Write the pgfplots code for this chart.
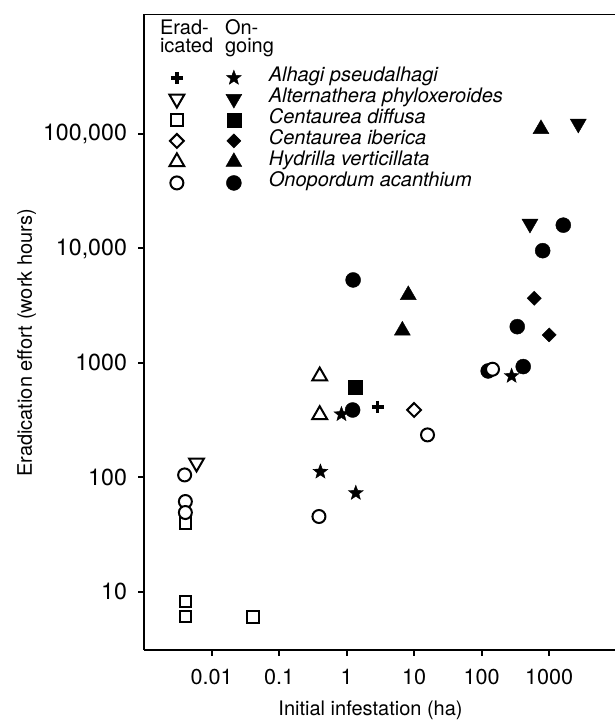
\documentclass[border=0pt]{standalone}
\usepackage{fontspec}
\setmainfont{TeX Gyre Heros}
\usepackage{pgfplots}
\pgfplotsset{compat=1.18}
\usetikzlibrary{plotmarks}

% filled five-pointed star
\pgfdeclareplotmark{fstar}{%
  \pgfpathmoveto{\pgfpointpolar{90}{\pgfplotmarksize}}%
  \pgfpathlineto{\pgfpointpolar{126}{0.42\pgfplotmarksize}}%
  \pgfpathlineto{\pgfpointpolar{162}{\pgfplotmarksize}}%
  \pgfpathlineto{\pgfpointpolar{198}{0.42\pgfplotmarksize}}%
  \pgfpathlineto{\pgfpointpolar{234}{\pgfplotmarksize}}%
  \pgfpathlineto{\pgfpointpolar{270}{0.42\pgfplotmarksize}}%
  \pgfpathlineto{\pgfpointpolar{306}{\pgfplotmarksize}}%
  \pgfpathlineto{\pgfpointpolar{342}{0.42\pgfplotmarksize}}%
  \pgfpathlineto{\pgfpointpolar{18}{\pgfplotmarksize}}%
  \pgfpathlineto{\pgfpointpolar{54}{0.42\pgfplotmarksize}}%
  \pgfpathclose
  \pgfusepathqfillstroke
}

% open marks = eradicated, filled marks = ongoing
\tikzset{
  opn/.style={draw=black, fill=white, line width=1pt, line join=miter},
  fld/.style={draw=black, fill=black, line width=0.2pt, line join=miter},
  e plus/.style={mark=+, mark size=3pt, mark options={draw=black, line width=1.9pt}},
  o star/.style={mark=fstar, mark size=3.9pt, mark options={fld}},
  e dtri/.style={mark=triangle*, mark size=4.3pt, mark options={opn, rotate=180}},
  o dtri/.style={mark=triangle*, mark size=4.6pt, mark options={fld, rotate=180}},
  e sq/.style={mark=square*, mark size=2.85pt, mark options={opn}},
  o sq/.style={mark=square*, mark size=3.5pt, mark options={fld}},
  e dia/.style={mark=square*, mark size=2.45pt, mark options={opn, rotate=45}},
  o dia/.style={mark=square*, mark size=2.5pt, mark options={fld, rotate=45}},
  e tri/.style={mark=triangle*, mark size=4.3pt, mark options={opn}},
  o tri/.style={mark=triangle*, mark size=4.6pt, mark options={fld}},
  e circ/.style={mark=*, mark size=3.25pt, mark options={opn}},
  o circ/.style={mark=*, mark size=3.75pt, mark options={fld}},
}
\pgfplotsset{
  pair/.style 2 args={legend image code/.code={
      \draw[only marks, #1] plot coordinates {(0pt,0pt)};
      \draw[only marks, #2] plot coordinates {(28.5pt,0pt)};
  }},
}

\begin{document}
\begin{tikzpicture}
% page = axis box plus margins (axis sits with its lower left corner at the origin)
\useasboundingbox (-72pt,-35pt) rectangle (235.5pt,325pt);
\begin{axis}[
  at={(0pt,0pt)}, anchor=south west,
  scale only axis, width=235.5pt, height=318pt,
  xmode=log, ymode=log,
  xmin=0.001, xmax=9440, ymin=3.1, ymax=1.12e6,
  axis x line*=bottom, axis y line*=left,
  axis line style={line width=1.1pt},
  tick align=outside, major tick length=3pt,
  tick style={line width=1pt, black},
  xminorticks=false, yminorticks=false,
  xtick={0.01,0.1,1,10,100,1000}, xticklabels={0.01,0.1,1,10,100,1000},
  ytick={10,100,1000,10000,100000}, yticklabels={10,100,1000,{10,000},{100,000}},
  xticklabel style={font=\fontsize{10.8}{12}\selectfont, yshift=-3pt},
  yticklabel style={font=\fontsize{11.6}{13}\selectfont, xshift=-2pt},
  xlabel={Initial infestation (ha)}, ylabel={Eradication effort (work hours)},
  label style={font=\fontsize{12.8}{14}\selectfont},
  every axis x label/.style={at={(rel axis cs:0.481,0)}, yshift=-32.5pt, anchor=base},
  every axis y label/.style={at={(rel axis cs:0,0.483)}, xshift=-56pt, rotate=90, anchor=base},
  legend cell align=left,
  legend style={draw=none, fill=none, at={(rel axis cs:0.054,0.916)}, anchor=north west,
    inner sep=0pt, outer sep=0pt, row sep=0pt, column sep=13.5pt,
    font=\fontsize{10}{12}\selectfont\itshape,
    nodes={inner sep=0pt, text height=7.2pt, text depth=3.3pt}},
]
% ongoing
\addplot[only marks, o star, pair={e plus}{o star}] coordinates {(0.84,356) (0.41,112) (1.37,73) (278,769)};
\addlegendentry{Alhagi pseudalhagi}
\addplot[only marks, o dtri, pair={e dtri}{o dtri}] coordinates {(2700,123000) (520,16440)};
\addlegendentry{Alternathera phyloxeroides}
\addplot[only marks, o sq, pair={e sq}{o sq}] coordinates {(1.33,614)};
\addlegendentry{Centaurea diffusa}
\addplot[only marks, o dia, pair={e dia}{o dia}] coordinates {(601,3670) (1002,1758)};
\addlegendentry{Centaurea iberica}
\addplot[only marks, o tri, pair={e tri}{o tri}] coordinates {(757,110600) (8.2,3925) (6.7,1920)};
\addlegendentry{Hydrilla verticillata}
\addplot[only marks, o circ, pair={e circ}{o circ}] coordinates {(1.25,5310) (1.23,388) (1620,16000) (802,9570) (337,2075) (413,929) (125,851)};
\addlegendentry{Onopordum acanthium}
% eradicated
\addplot[only marks, e plus, forget plot] coordinates {(2.88,415)};
\addplot[only marks, e dtri, forget plot] coordinates {(0.006,134)};
\addplot[only marks, e sq, forget plot] coordinates {(0.0041,40) (0.0041,8.2) (0.0041,6.1) (0.041,6.0)};
\addplot[only marks, e dia, forget plot] coordinates {(10,388)};
\addplot[only marks, e tri, forget plot] coordinates {(0.40,766) (0.40,352)};
\addplot[only marks, e circ, forget plot] coordinates {(0.004,105) (0.0041,61.5) (0.0041,49.3) (0.39,45.5) (15.8,235) (145,881)};

\draw[line width=1.1pt, line cap=rect] (rel axis cs:0,1) -- (rel axis cs:1,1);
\node[anchor=base west, font=\fontsize{10}{12}\selectfont] at (rel axis cs:0.0191,0.967) {Erad-};
\node[anchor=base west, font=\fontsize{10}{12}\selectfont] at (rel axis cs:0.0191,0.9387) {icated};
\node[anchor=base west, font=\fontsize{10}{12}\selectfont] at (rel axis cs:0.1571,0.967) {On-};
\node[anchor=base west, font=\fontsize{10}{12}\selectfont] at (rel axis cs:0.1571,0.9387) {going};
\end{axis}
\end{tikzpicture}
\end{document}
